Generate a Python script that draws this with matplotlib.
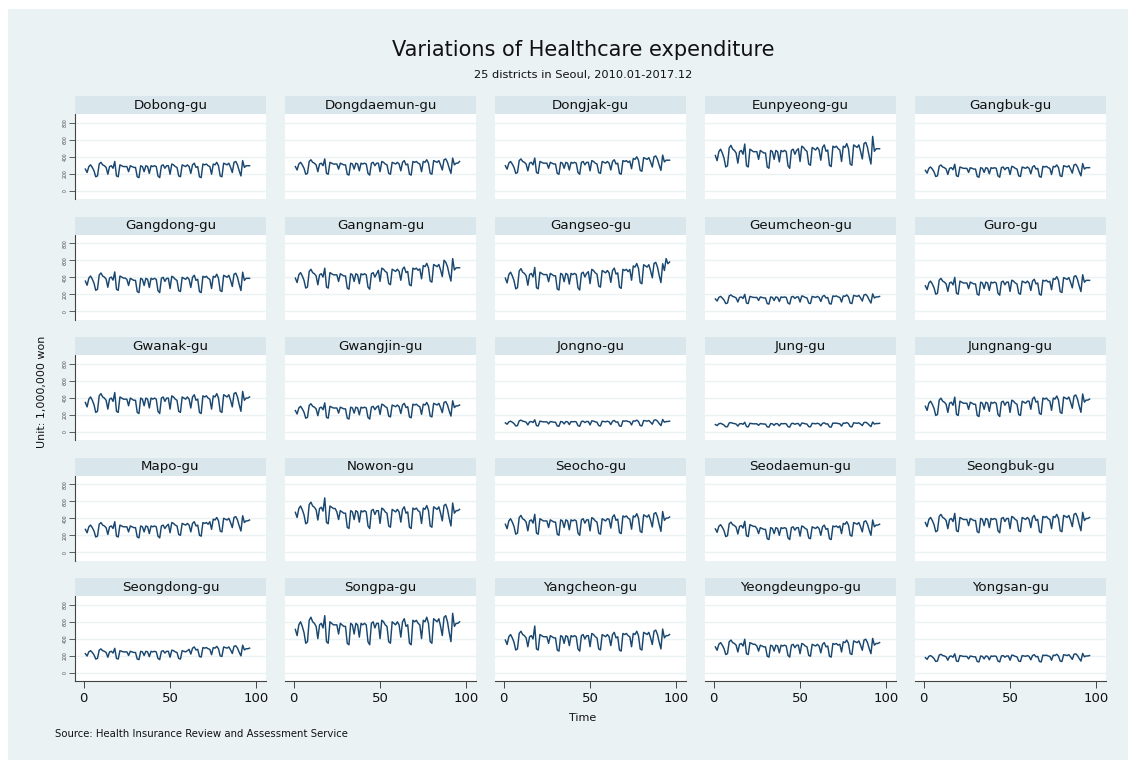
import matplotlib
matplotlib.use("Agg")
import matplotlib.pyplot as plt
from matplotlib.patches import Rectangle

plt.rcParams['font.family'] = ['DejaVu Sans']

# ---------------- data (monthly, 2010.01-2017.12, unit: 1,000,000 won) ----------------
districts = ["Dobong-gu", "Dongdaemun-gu", "Dongjak-gu", "Eunpyeong-gu", "Gangbuk-gu",
             "Gangdong-gu", "Gangnam-gu", "Gangseo-gu", "Geumcheon-gu", "Guro-gu",
             "Gwanak-gu", "Gwangjin-gu", "Jongno-gu", "Jung-gu", "Jungnang-gu",
             "Mapo-gu", "Nowon-gu", "Seocho-gu", "Seodaemun-gu", "Seongbuk-gu",
             "Seongdong-gu", "Songpa-gu", "Yangcheon-gu", "Yeongdeungpo-gu", "Yongsan-gu"]

time = list(range(1, 97))

dobong = [255,215,285,305,275,235,165,175,315,335,305,295,
          275,195,285,295,265,345,175,165,305,295,285,285,
          285,225,295,285,275,275,165,155,295,285,225,295,
          285,205,295,285,295,285,175,155,295,305,265,295,
          295,195,315,305,285,275,175,165,305,295,285,305,
          285,205,305,325,275,285,165,155,315,305,315,295,
          285,195,315,305,335,295,175,165,325,315,305,325,
          275,215,335,345,305,235,175,355,275,295,295,295]
dongdaemun = [285,245,315,335,305,265,195,205,345,365,335,325,
              305,225,315,325,295,375,205,195,335,325,315,315,
              315,255,325,315,305,305,195,185,325,315,255,325,
              315,235,325,315,325,315,205,185,325,335,295,325,
              325,225,345,335,315,305,205,195,335,325,315,335,
              315,235,335,355,305,315,195,185,345,335,345,325,
              315,225,345,335,365,325,205,195,355,345,335,355,
              305,245,365,375,335,265,205,385,305,325,325,345]
dongjak = [295,255,325,345,315,275,205,215,355,375,345,335,
           315,235,325,335,305,385,215,205,345,335,325,325,
           325,265,335,325,315,315,205,195,335,325,265,335,
           325,245,335,325,335,325,215,195,335,345,305,335,
           335,235,355,345,325,315,215,205,345,335,325,345,
           325,245,345,365,315,325,205,195,355,345,355,335,
           350,260,380,370,400,360,240,230,390,380,370,390,
           340,280,400,410,370,300,240,420,340,360,360,360]
eunpyeong = [415,355,460,490,445,385,280,295,505,535,490,475,
             445,325,460,475,430,550,295,280,490,475,460,460,
             460,370,475,460,445,445,280,265,475,460,370,475,
             460,340,475,460,475,460,295,265,475,490,430,475,
             495,345,525,510,480,465,315,300,510,495,480,510,
             480,360,510,540,465,480,300,285,525,510,525,495,
             480,345,525,510,555,495,315,300,540,525,510,540,
             465,375,555,570,510,405,315,640,465,495,495,495]
gangbuk = [240,208,264,280,256,224,168,176,288,304,280,272,
           256,192,264,272,248,312,176,168,280,272,264,264,
           264,216,272,264,256,256,168,160,272,264,216,272,
           264,200,272,264,272,264,176,160,272,280,248,272,
           272,192,288,280,264,256,176,168,280,272,264,280,
           264,200,280,296,256,264,168,160,288,280,288,272,
           264,192,288,280,304,272,176,168,296,288,280,296,
           256,208,304,312,280,224,176,320,256,272,272,272]
gangdong = [355,307,391,415,379,331,247,259,427,451,415,403,
            379,283,391,403,367,463,259,247,415,403,391,391,
            376,304,388,376,364,364,232,220,388,376,304,388,
            376,280,388,376,388,376,244,220,388,400,352,388,
            388,268,412,400,376,364,244,232,400,388,376,400,
            376,280,400,424,364,376,232,220,412,400,412,388,
            376,268,412,400,436,388,244,232,424,412,400,424,
            364,292,436,448,400,316,244,460,364,388,388,388]
gangnam = [390,338,429,455,416,364,273,286,468,494,455,442,
           416,312,429,442,403,507,286,273,455,442,429,429,
           429,351,442,429,416,416,273,260,442,429,351,442,
           429,325,442,429,442,429,286,260,442,455,403,442,
           482,352,508,495,469,456,326,313,495,482,469,495,
           469,365,495,521,456,469,313,300,508,495,508,482,
           499,382,538,525,564,512,356,343,551,538,525,551,
           486,408,600,577,525,434,356,620,486,512,512,512]
gangseo = [390,334,432,460,418,362,264,278,474,502,460,446,
           418,306,432,446,404,516,278,264,460,446,432,432,
           432,348,446,432,418,418,264,250,446,432,348,446,
           432,320,446,432,446,432,278,250,446,460,404,446,
           466,326,494,480,452,438,298,284,480,466,452,480,
           452,340,480,508,438,452,284,270,494,480,494,466,
           492,366,534,520,562,506,338,324,548,534,520,548,
           478,394,562,576,520,422,338,560,480,620,560,580]
geumcheon = [145,121,163,175,157,133,91,97,181,193,175,169,
             157,109,163,169,151,199,97,91,175,169,163,163,
             163,127,169,163,157,157,91,85,169,163,127,169,
             163,115,169,163,169,163,97,85,169,175,151,169,
             169,109,181,175,163,157,97,91,175,169,163,175,
             163,115,175,187,157,163,91,85,181,175,181,169,
             163,109,181,175,193,169,97,91,187,181,175,187,
             157,121,193,199,175,133,97,205,157,169,169,175]
guro = [300,256,333,355,322,278,201,212,366,388,355,344,
        322,234,333,344,311,399,212,201,355,344,333,333,
        333,267,344,333,322,322,201,190,344,333,267,344,
        333,245,344,333,344,333,212,190,344,355,311,344,
        344,234,366,355,333,322,212,201,355,344,333,355,
        333,245,355,377,322,333,201,190,366,355,366,344,
        353,254,386,375,408,364,232,221,397,386,375,397,
        342,276,408,419,375,298,232,430,342,364,364,364]
gwanak = [345,293,384,410,371,319,228,241,423,449,410,397,
          371,267,384,397,358,462,241,228,410,397,384,384,
          384,306,397,384,371,371,228,215,397,384,306,397,
          384,280,397,384,397,384,241,215,397,410,358,397,
          397,267,423,410,384,371,241,228,410,397,384,410,
          384,280,410,436,371,384,228,215,423,410,423,397,
          384,267,423,410,449,397,241,228,436,423,410,436,
          371,293,449,462,410,319,241,475,371,397,397,410]
gwangjin = [250,210,280,300,270,230,160,170,310,330,300,290,
            270,190,280,290,260,340,170,160,300,290,280,280,
            280,220,290,280,270,270,160,150,290,280,220,290,
            280,200,290,280,290,280,170,150,290,300,260,290,
            305,205,325,315,295,285,185,175,315,305,295,315,
            295,215,315,335,285,295,175,165,325,315,325,305,
            295,205,325,315,345,305,185,175,335,325,315,335,
            285,225,345,355,315,245,185,365,285,305,305,315]
jongno = [105,89,117,125,113,97,69,73,129,137,125,121,
          113,81,117,121,109,141,73,69,125,121,117,117,
          117,93,121,117,113,113,69,65,121,117,93,121,
          117,85,121,117,121,117,73,65,121,125,109,121,
          121,81,129,125,117,113,73,69,125,121,117,125,
          117,85,125,133,113,117,69,65,129,125,129,121,
          117,81,129,125,137,121,73,69,133,129,125,133,
          113,89,137,141,125,97,73,145,113,121,121,125]
jung = [85,73,94,100,91,79,58,61,103,109,100,97,
        91,67,94,97,88,112,61,58,100,97,94,94,
        94,76,97,94,91,91,58,55,97,94,76,97,
        94,70,97,94,97,94,61,55,97,100,88,97,
        97,67,103,100,94,91,61,58,100,97,94,100,
        94,70,100,106,91,94,58,55,103,100,103,97,
        94,67,103,100,109,97,61,58,106,103,100,106,
        91,73,109,112,100,79,61,115,91,97,97,100]
jungnang = [300,252,336,360,324,276,192,204,372,396,360,348,
            324,228,336,348,312,408,204,192,360,348,336,336,
            336,264,348,336,324,324,192,180,348,336,264,348,
            336,240,348,336,348,336,204,180,348,360,312,348,
            348,228,372,360,336,324,204,192,360,348,336,360,
            361,265,385,409,349,361,217,205,397,385,397,373,
            361,253,397,385,421,373,229,217,409,397,385,409,
            349,277,421,433,385,301,229,445,349,373,373,385]
mapo = [270,230,300,320,290,250,180,190,330,350,320,310,
        290,210,300,310,280,360,190,180,320,310,300,300,
        300,240,310,300,290,290,180,170,310,300,240,310,
        300,220,310,300,310,300,190,170,310,320,280,310,
        330,230,350,340,320,310,210,200,340,330,320,340,
        320,240,340,360,310,320,200,190,350,340,350,330,
        360,270,390,380,410,370,250,240,400,390,380,400,
        350,290,410,420,380,310,250,430,350,370,370,380]
nowon = [470,410,515,545,500,440,335,350,560,590,545,530,
         500,380,515,530,485,640,350,335,545,530,515,515,
         475,385,490,475,460,460,295,280,490,475,385,490,
         475,355,490,475,490,475,310,280,490,505,445,490,
         490,340,520,505,475,460,310,295,505,490,475,505,
         475,355,505,535,460,475,295,280,520,505,520,490,
         475,340,520,505,550,490,310,295,535,520,505,535,
         460,370,550,565,505,400,310,580,460,490,490,505]
seocho = [330,278,369,395,356,304,213,226,408,434,395,382,
          356,252,369,382,343,447,226,213,395,382,369,369,
          369,291,382,369,356,356,213,200,382,369,291,382,
          369,265,382,369,382,369,226,200,382,395,343,382,
          382,252,408,395,369,356,226,213,395,382,369,395,
          389,285,415,441,376,389,233,220,428,415,428,402,
          389,272,428,415,454,402,246,233,441,428,415,441,
          376,298,454,467,415,324,246,480,376,402,402,415]
seodaemun = [275,235,305,325,295,255,185,195,335,355,325,315,
             295,215,305,315,285,365,195,185,325,315,305,305,
             280,220,290,280,270,270,160,150,290,280,220,290,
             280,200,290,280,290,280,170,150,290,300,260,290,
             290,190,310,300,280,270,170,160,300,290,280,300,
             280,200,300,320,270,280,160,150,310,300,310,290,
             310,220,340,330,360,320,200,190,350,340,330,350,
             300,240,360,370,330,260,200,380,300,320,320,330]
seongbuk = [350,302,386,410,374,326,242,254,422,446,410,398,
            374,278,386,398,362,458,254,242,410,398,386,386,
            386,314,398,386,374,374,242,230,398,386,314,398,
            386,290,398,386,398,386,254,230,398,410,362,398,
            398,278,422,410,386,374,254,242,410,398,386,410,
            386,290,410,434,374,386,242,230,422,410,422,398,
            386,278,422,410,446,398,254,242,434,422,410,434,
            374,302,446,458,410,326,254,470,374,398,398,410]
seongdong = [225,197,246,260,239,211,162,169,267,281,260,253,
             239,183,246,253,232,288,169,162,260,253,246,246,
             246,204,253,246,239,239,162,155,253,246,204,253,
             246,190,253,246,253,246,169,155,253,260,232,253,
             253,183,267,260,246,239,169,162,260,253,246,260,
             276,220,290,304,269,276,192,185,297,290,297,283,
             276,213,297,290,311,283,199,192,304,297,290,304,
             269,227,311,318,290,241,199,325,269,283,283,290]
songpa = [510,438,564,600,546,474,348,366,618,654,600,582,
          546,402,564,582,528,672,366,348,600,582,564,564,
          564,456,582,564,546,546,348,330,582,564,456,582,
          564,420,582,564,582,564,366,330,582,600,528,582,
          582,402,618,600,564,546,366,348,600,582,564,600,
          564,420,600,636,546,564,348,330,618,600,618,582,
          564,402,618,600,654,582,366,348,636,618,600,636,
          546,438,654,672,600,474,366,700,546,582,582,600]
yangcheon = [385,333,424,450,411,359,268,281,463,489,450,437,
             411,307,424,437,398,550,281,268,450,437,424,424,
             424,346,437,424,411,411,268,255,437,424,346,437,
             424,320,437,424,437,424,281,255,437,450,398,437,
             437,307,463,450,424,411,281,268,450,437,424,450,
             424,320,450,476,411,424,268,255,463,450,463,437,
             424,307,463,450,489,437,281,268,476,463,450,476,
             411,333,489,502,450,359,281,515,411,437,437,450]
yeongdeungpo = [305,265,335,355,325,285,215,225,365,385,355,345,
                325,245,335,345,315,395,225,215,355,345,335,335,
                315,255,325,315,305,305,195,185,325,315,255,325,
                315,235,325,315,325,315,205,185,325,335,295,325,
                325,225,345,335,315,305,205,195,335,325,315,335,
                315,235,335,355,305,315,195,185,345,335,345,325,
                335,245,365,355,385,345,225,215,375,365,355,375,
                325,265,385,395,355,285,225,405,325,345,345,355]
yongsan = [178,158,193,203,188,168,133,138,208,218,203,198,
           188,148,193,198,183,223,138,133,203,198,193,193,
           193,163,198,193,188,188,133,128,198,193,163,198,
           193,153,198,193,198,193,138,128,198,203,183,198,
           198,148,208,203,193,188,138,133,203,198,193,203,
           193,153,203,213,188,193,133,128,208,203,208,198,
           193,148,208,203,218,198,138,133,213,208,203,213,
           188,158,218,223,203,168,138,228,188,198,198,203]

series = [dobong, dongdaemun, dongjak, eunpyeong, gangbuk,
          gangdong, gangnam, gangseo, geumcheon, guro,
          gwanak, gwangjin, jongno, jung, jungnang,
          mapo, nowon, seocho, seodaemun, seongbuk,
          seongdong, songpa, yangcheon, yeongdeungpo, yongsan]

yticks = [0, 200, 400, 600, 800]
xticks = [0, 50, 100]

# ---------------- layout ----------------
W, H = 1135, 764
BG = '#eaf2f3'
STRIP = '#d9e6eb'
LINE = '#1a476f'

fig = plt.figure(figsize=(W / 100, H / 100), dpi=100)
fig.patch.set_facecolor('white')
fig.add_artist(Rectangle((8 / W, 1 - 760 / H), (1128 - 8) / W, (760 - 9) / H,
                         transform=fig.transFigure, facecolor=BG,
                         edgecolor='none', zorder=0))

PW, PH, SH = 191, 85, 18.3

for i, (name, vals) in enumerate(zip(districts, series)):
    r, c = divmod(i, 5)
    left = 75 + 210 * c
    ptop = 114.3 + 120.5 * r
    ax = fig.add_axes([left / W, 1 - (ptop + PH) / H, PW / W, PH / H])
    ax.set_facecolor('white')
    ax.plot(time, vals, color=LINE, lw=1.05, zorder=3)
    ax.set_xlim(-5, 105.5)
    ax.set_ylim(-100, 900)
    ax.set_yticks(yticks)
    ax.grid(axis='y', color=BG, lw=1.0, zorder=0)
    for s in ['top', 'right']:
        ax.spines[s].set_visible(False)
    if c == 0:
        ax.spines['left'].set_color('#444444')
        ax.spines['left'].set_linewidth(0.8)
        ax.tick_params(axis='y', length=4, width=0.6, color='#444444',
                       labelsize=3.3, labelcolor='#444444', pad=1)
        for lbl in ax.get_yticklabels():
            lbl.set_rotation(90)
            lbl.set_va('center')
    else:
        ax.spines['left'].set_visible(False)
        ax.tick_params(axis='y', left=False, labelleft=False)
    if r == 4:
        ax.set_xticks(xticks)
        ax.spines['bottom'].set_color('#444444')
        ax.spines['bottom'].set_linewidth(0.8)
        ax.tick_params(axis='x', length=5, width=0.7, color='#444444',
                       labelsize=9.5, pad=3, labelcolor='#111111')
    else:
        ax.spines['bottom'].set_visible(False)
        ax.set_xticks([])

    stop = 96 + 120.5 * r
    sax = fig.add_axes([left / W, 1 - (stop + SH) / H, PW / W, SH / H])
    sax.set_facecolor(STRIP)
    sax.set_xticks([])
    sax.set_yticks([])
    for s in sax.spines.values():
        s.set_visible(False)
    sax.text(0.5, 0.5, name, ha='center', va='center', fontsize=9.6,
             color='#111111', transform=sax.transAxes)

fig.text(583 / W, 1 - 50 / H, "Variations of Healthcare expenditure",
         ha='center', va='center', fontsize=15, color='#111111')
fig.text(583 / W, 1 - 75 / H, "25 districts in Seoul, 2010.01-2017.12",
         ha='center', va='center', fontsize=8.2, color='#111111')
fig.text(42 / W, 1 - 392 / H, "Unit: 1,000,000 won", rotation=90,
         ha='center', va='center', fontsize=8, color='#111111')
fig.text(583 / W, 1 - 718 / H, "Time", ha='center', va='center',
         fontsize=8, color='#111111')
fig.text(55 / W, 1 - 734 / H, "Source: Health Insurance Review and Assessment Service",
         ha='left', va='center', fontsize=7.3, color='#111111')

fig.savefig("out.png", dpi=100, facecolor=fig.get_facecolor())
